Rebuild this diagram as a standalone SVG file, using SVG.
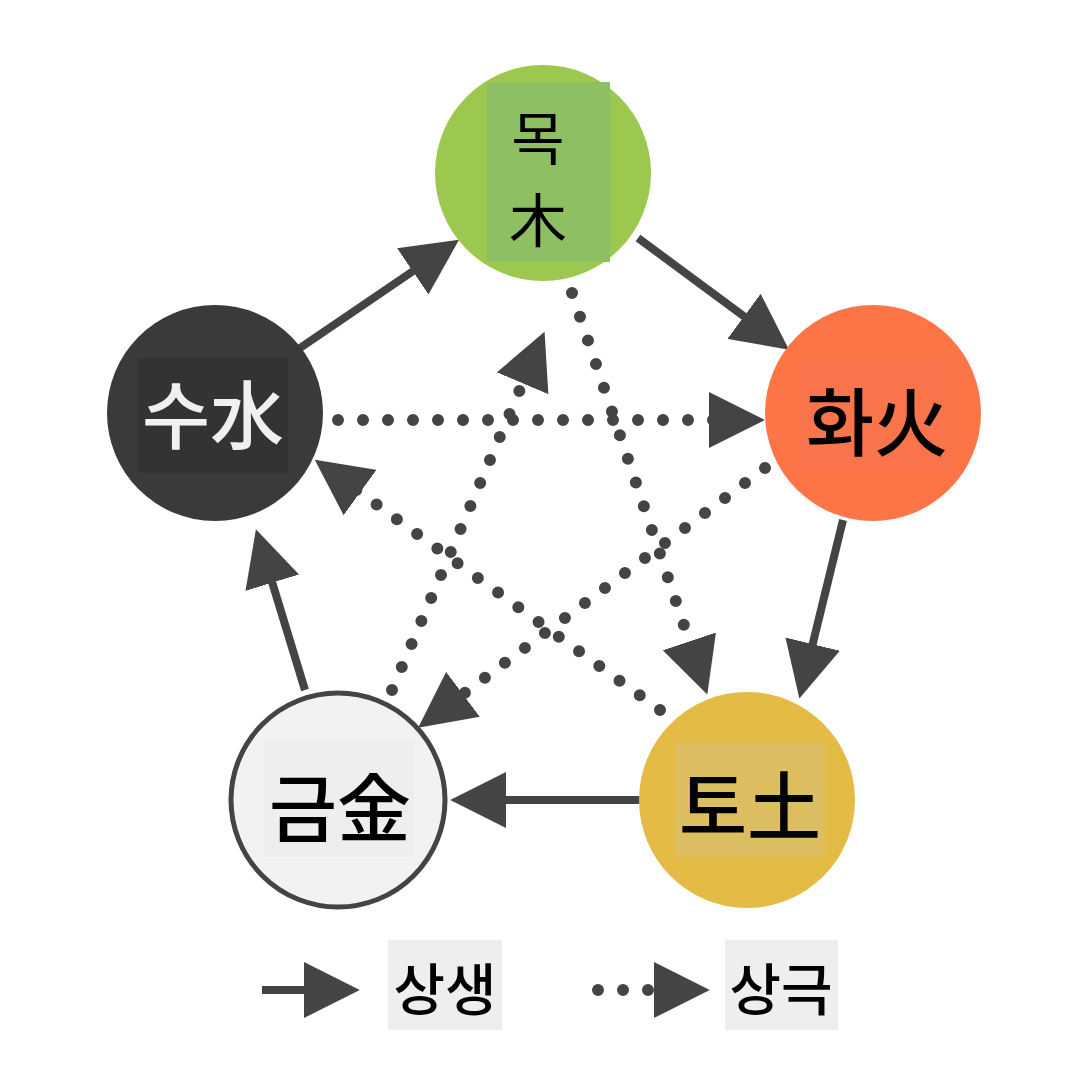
<svg xmlns="http://www.w3.org/2000/svg" width="1080" height="1080" viewBox="0 0 1080 1080">
<style>
.t{font-family:"Noto Sans CJK KR","Noto Sans",sans-serif;font-size:74px;font-weight:500;text-anchor:middle}
.w{font-family:"Noto Sans CJK KR","Noto Sans",sans-serif;font-size:58px;text-anchor:middle}
.lg{font-family:"Noto Sans CJK KR","Noto Sans",sans-serif;font-size:56px;font-weight:500;text-anchor:middle}
.s{stroke:#444;stroke-width:8;fill:none}
.d{stroke:#444;stroke-width:12;stroke-linecap:round;stroke-dasharray:0 25;fill:none}
</style>
<defs>
<marker id="h" markerUnits="userSpaceOnUse" markerWidth="56" markerHeight="56" refX="10" refY="25" orient="auto" viewBox="0 0 50 50">
<path d="M0,0 L50,25 L0,50 Z" fill="#444"/>
</marker>
</defs>
<rect width="1080" height="1080" fill="#fff"/>
<g id="connectors">
<line class="s" x1="300" y1="348" x2="422" y2="265" marker-end="url(#h)"/>
<line class="s" x1="638" y1="238" x2="753" y2="323" marker-end="url(#h)"/>
<line class="s" x1="843" y1="520" x2="810" y2="655" marker-end="url(#h)"/>
<line class="s" x1="640" y1="800" x2="495" y2="800" marker-end="url(#h)"/>
<line class="s" x1="305" y1="690" x2="269" y2="572" marker-end="url(#h)"/>
<line class="d" x1="338" y1="420" x2="720" y2="420" marker-end="url(#h)"/>
<line class="d" x1="572" y1="293" x2="693" y2="652" marker-end="url(#h)"/>
<line class="d" x1="765" y1="468" x2="454" y2="701" marker-end="url(#h)"/>
<line class="d" x1="660" y1="710" x2="351" y2="486" marker-end="url(#h)"/>
<line class="d" x1="392" y1="690" x2="527" y2="373" marker-end="url(#h)"/>
</g>
<g id="wood">
<circle cx="543" cy="173" r="108" fill="#9dc84f"/>
<rect x="487" y="82" width="123" height="180" fill="#8fbf63"/>
<text class="w" x="538" y="160">목</text>
<text class="w" x="538" y="242">木</text>
</g>
<g id="fire">
<circle cx="873" cy="413" r="108" fill="#fd7447"/>
<rect x="800" y="360" width="155" height="110" fill="#f9744a"/>
<text class="t" x="877" y="450">화火</text>
</g>
<g id="earth">
<circle cx="747" cy="800" r="108" fill="#e4bc45"/>
<rect x="675" y="742" width="150" height="115" fill="#dcbd5f"/>
<text class="t" x="750" y="834">토土</text>
</g>
<g id="metal">
<circle cx="338" cy="800" r="107" fill="#f2f2f2" stroke="#444" stroke-width="5"/>
<rect x="264" y="742" width="150" height="115" fill="#eeeeee"/>
<text class="t" x="340" y="836">금金</text>
</g>
<g id="water">
<circle cx="215" cy="413" r="108" fill="#3a3a3a"/>
<rect x="138" y="358" width="150" height="115" fill="#333"/>
<text class="t" x="213" y="443" fill="#f0f0f0">수水</text>
</g>
<g id="legend">
<line class="s" x1="262" y1="990" x2="315" y2="990" marker-end="url(#h)"/>
<rect x="388" y="940" width="114" height="90" fill="#eeeeee"/>
<text class="lg" x="445" y="1010">상생</text>
<line class="d" x1="598" y1="990" x2="665" y2="990" marker-end="url(#h)"/>
<rect x="725" y="940" width="113" height="90" fill="#eeeeee"/>
<text class="lg" x="781" y="1010">상극</text>
</g>
</svg>
